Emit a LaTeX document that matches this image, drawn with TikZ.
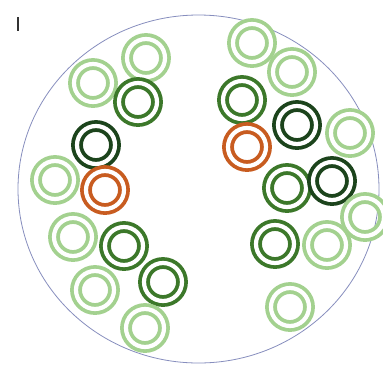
\documentclass[tikz,border=0pt]{standalone}
\usepackage{tikz}
\definecolor{lg}{RGB}{163,209,143}
\definecolor{dg}{RGB}{60,120,42}
\definecolor{ddg}{RGB}{28,68,28}
\definecolor{org}{RGB}{200,92,32}
\definecolor{rim}{RGB}{135,142,190}
\tikzset{
  ring/.style={circle, inner sep=0pt, minimum size=38pt, line width=3.8pt, double=white, double distance=4.2pt},
  lgring/.style={ring, draw=lg},
  dgring/.style={ring, draw=dg},
  ddgring/.style={ring, draw=ddg},
  oring/.style={ring, draw=org},
  dish/.style={draw=rim, line width=0.8pt},
}
\begin{document}
\begin{tikzpicture}[x=1pt,y=-1pt]
\useasboundingbox (0,0) rectangle (383,365);
\fill[white] (0,0) rectangle (383,365);
\draw[dish] (198.5,189) ellipse [x radius=180.5, y radius=174];
\coordinate (t1) at (18,17);
\coordinate (t2) at (18,31);
\draw[line width=1.5pt, black!80] (t1) -- (t2);
% left arc
\node[lgring]  (l1)  at (146,58) {};
\node[lgring]  (l2)  at (93,83) {};
\node[dgring]  (l3)  at (138,102) {};
\node[ddgring] (l4)  at (96,145) {};
\node[lgring]  (l5)  at (55,180) {};
\node[oring]   (l6)  at (105,190) {};
\node[lgring]  (l7)  at (73,237) {};
\node[dgring]  (l8)  at (124,246) {};
\node[dgring]  (l9)  at (163,282) {};
\node[lgring]  (l10) at (95,290) {};
\node[lgring]  (l11) at (145,328) {};
% right arc
\node[lgring]  (r1)  at (252,43) {};
\node[lgring]  (r2)  at (292,72) {};
\node[dgring]  (r3)  at (242,100) {};
\node[ddgring] (r4)  at (297,125) {};
\node[lgring]  (r5)  at (350,133) {};
\node[oring]   (r6)  at (247,147) {};
\node[dgring]  (r7)  at (287,188) {};
\node[ddgring] (r8)  at (332,181) {};
\node[lgring]  (r9)  at (365,217) {};
\node[dgring]  (r10) at (275,244) {};
\node[lgring]  (r11) at (327,245) {};
\node[lgring]  (r12) at (290,307) {};
\end{tikzpicture}
\end{document}
